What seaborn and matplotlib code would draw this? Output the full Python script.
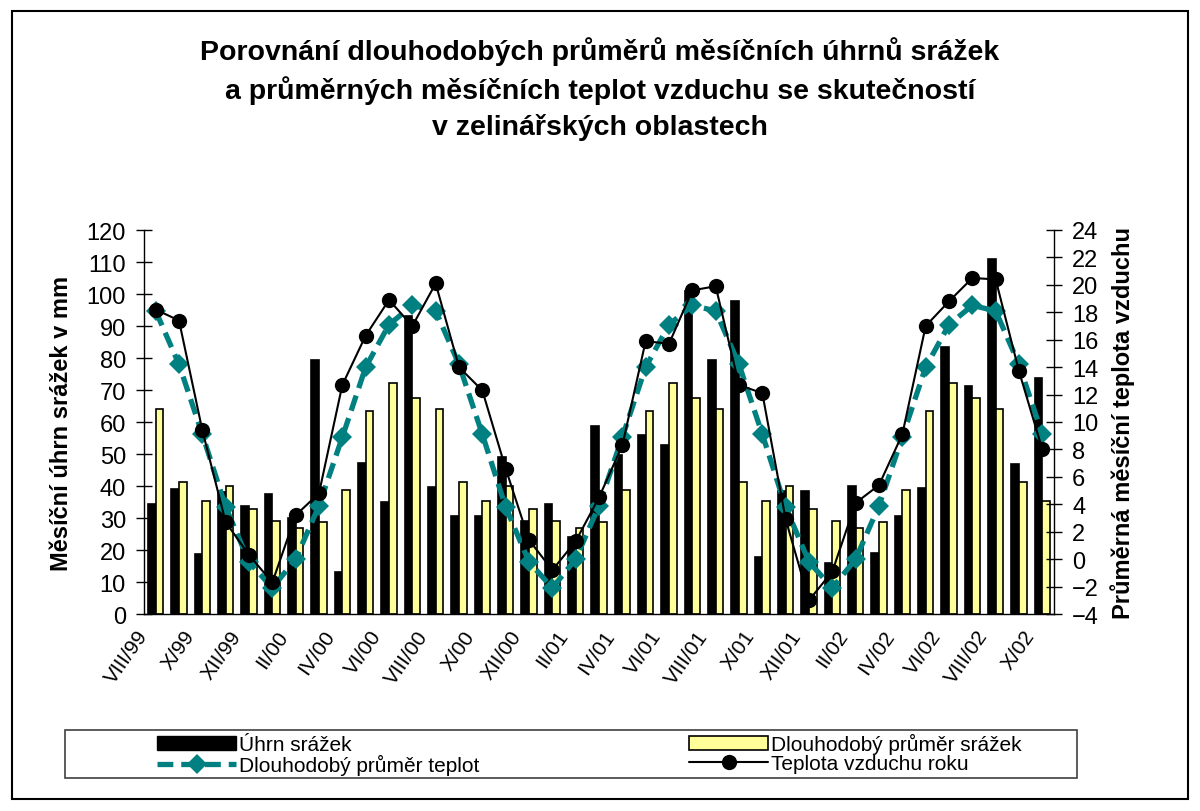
import numpy as np
import pandas as pd
import seaborn as sns
import matplotlib.pyplot as plt
import matplotlib.patches as mpatches
import matplotlib.transforms as mtransforms
from matplotlib.lines import Line2D

# months VIII/99 .. X/02
mesice = ['VIII/99', 'IX/99', 'X/99', 'XI/99', 'XII/99',
          'I/00', 'II/00', 'III/00', 'IV/00', 'V/00', 'VI/00', 'VII/00', 'VIII/00', 'IX/00', 'X/00', 'XI/00', 'XII/00',
          'I/01', 'II/01', 'III/01', 'IV/01', 'V/01', 'VI/01', 'VII/01', 'VIII/01', 'IX/01', 'X/01', 'XI/01', 'XII/01',
          'I/02', 'II/02', 'III/02', 'IV/02', 'V/02', 'VI/02', 'VII/02', 'VIII/02', 'IX/02', 'X/02']

# monthly precipitation (mm)
uhrn_srazek = [34.4, 39.0, 18.9, 38.0, 33.7,
               37.6, 30.0, 79.5, 13.0, 47.3, 34.9, 93.1, 39.8, 30.6, 30.6, 49.0, 29.0,
               34.3, 24.0, 58.8, 49.7, 55.8, 52.9, 100.9, 79.3, 97.8, 17.7, 38.5, 38.3,
               16.0, 40.0, 19.2, 30.6, 39.5, 83.4, 71.4, 110.9, 46.9, 73.8]

# long-term average precipitation (mm)
prumer_srazek = [64.1, 41.4, 35.3, 39.9, 32.9,
                 29.2, 26.8, 28.6, 38.7, 63.3, 72.3, 67.5, 64.1, 41.4, 35.3, 39.9, 32.9,
                 29.2, 26.8, 28.6, 38.7, 63.3, 72.3, 67.5, 64.1, 41.4, 35.3, 39.9, 32.9,
                 29.2, 26.8, 28.6, 38.7, 63.3, 72.3, 67.5, 64.1, 41.4, 35.3]

# long-term average temperature (°C)
prumer_teplot = [18.1, 14.2, 9.1, 3.8, -0.2,
                 -2.1, 0.0, 3.9, 8.9, 14.0, 17.1, 18.5, 18.1, 14.2, 9.1, 3.8, -0.2,
                 -2.1, 0.0, 3.9, 8.9, 14.0, 17.1, 18.5, 18.1, 14.2, 9.1, 3.8, -0.2,
                 -2.1, 0.0, 3.9, 8.9, 14.0, 17.1, 18.5, 18.1, 14.2, 9.1]

# actual air temperature (°C)
teplota_roku = [18.2, 17.4, 9.4, 2.7, 0.3,
                -1.7, 3.2, 4.8, 12.7, 16.3, 18.9, 17.0, 20.1, 14.0, 12.3, 6.6, 1.4,
                -0.8, 1.3, 4.5, 8.3, 15.9, 15.7, 19.6, 19.9, 12.7, 12.1, 2.9, -3.0,
                -0.9, 4.1, 5.4, 9.1, 17.0, 18.8, 20.5, 20.4, 13.7, 8.0]

n = len(mesice)
TEAL = '#008080'
YELLOW = '#FFFF99'

sns.set_style('white')
plt.rcParams['font.family'] = ['Liberation Sans', 'DejaVu Sans']
plt.rcParams['text.color'] = 'black'
plt.rcParams['axes.labelcolor'] = 'black'
plt.rcParams['xtick.color'] = 'black'
plt.rcParams['ytick.color'] = 'black'

fig = plt.figure(figsize=(12, 8.12), dpi=100)
ax = fig.add_axes([144 / 1200, 1 - 615 / 812, (1054 - 144) / 1200, (615 - 231) / 812])

bars = pd.DataFrame({
    'mesic': mesice * 2,
    'hodnota': uhrn_srazek + prumer_srazek,
    'rada': ['Úhrn srážek'] * n + ['Dlouhodobý průměr srážek'] * n,
})
sns.barplot(data=bars, x='mesic', y='hodnota', hue='rada', order=mesice,
            palette=['black', YELLOW], saturation=1, width=0.66, errorbar=None,
            edgecolor='black', linewidth=1.2, legend=False, ax=ax)

ax2 = ax.twinx()
temps = pd.DataFrame({'x': np.arange(n), 'prumer': prumer_teplot, 'skut': teplota_roku})
sns.lineplot(data=temps, x='x', y='prumer', ax=ax2, color=TEAL, lw=3.8,
             linestyle=(0, (3, 1.5)), marker='D', markersize=10,
             markeredgecolor=TEAL, markeredgewidth=0)
sns.lineplot(data=temps, x='x', y='skut', ax=ax2, color='black', lw=1.5,
             marker='o', markersize=11, markeredgewidth=0)

# axes
ax.set_xlim(-0.5, n - 0.5)
ax.set_ylim(0, 120)
ax.set_yticks(range(0, 121, 10))
ax2.set_ylim(-4, 24)
ax2.set_yticks(range(-4, 25, 2))

ax.set_xticks(np.arange(-0.5, n, 1))
ax.set_xticklabels([])
ax.set_xticks(np.arange(0, n, 2), minor=True)
ax.set_xticklabels(mesice[::2], minor=True, rotation=55, ha='right', va='center',
                   rotation_mode='anchor', fontsize=15)
ax.tick_params(axis='x', which='major', direction='inout', length=10, width=1, color='black')
ax.tick_params(axis='x', which='minor', length=0, pad=13)
ax.tick_params(axis='y', direction='inout', length=12, width=1, labelsize=17, pad=7, color='black')
ax2.tick_params(axis='y', direction='inout', length=12, width=1, labelsize=17, pad=7, color='black')

shift = mtransforms.ScaledTranslation(-12 / 100, 0, fig.dpi_scale_trans)
for lbl in ax.get_xticklabels(minor=True):
    lbl.set_transform(lbl.get_transform() + shift)

ax.set_xlabel('')
ax.set_ylabel('Měsíční úhrn srážek v mm', fontsize=17, fontweight='bold', labelpad=10)
ax2.set_ylabel('Průměrná měsíční teplota vzduchu', fontsize=17, fontweight='bold',
               labelpad=8, rotation=90)

for s in ['top', 'right']:
    ax.spines[s].set_visible(False)
for s in ['top', 'left', 'bottom']:
    ax2.spines[s].set_visible(False)
for a in (ax, ax2):
    for s in a.spines.values():
        s.set_color('black')
        s.set_linewidth(1)

# title
fig.text(0.5, 1 - 89 / 812,
         'Porovnání dlouhodobých průměrů měsíčních úhrnů srážek\n'
         'a průměrných měsíčních teplot vzduchu se skutečností\n'
         'v zelinářských oblastech',
         ha='center', va='center', fontsize=20.5, fontweight='bold', linespacing=1.45)

# legend
h1 = mpatches.Patch(facecolor='black', edgecolor='black', label='Úhrn srážek')
h2 = mpatches.Patch(facecolor=YELLOW, edgecolor='black', lw=1.2, label='Dlouhodobý průměr srážek')
h3 = Line2D([], [], color=TEAL, lw=3.8, linestyle=(0, (3, 1.5)), marker='D',
            markersize=10, markeredgewidth=0, label='Dlouhodobý průměr teplot')
h4 = Line2D([], [], color='black', lw=1.5, marker='o', markersize=11,
            markeredgewidth=0, label='Teplota vzduchu roku')
fig.legend(handles=[h1, h3, h2, h4], ncol=2, mode='expand', loc='lower left',
           bbox_to_anchor=(157 / 1200, 1 - 776 / 812, (1022 - 157) / 1200, (776 - 735) / 812),
           frameon=False, borderaxespad=0, borderpad=0, fontsize=15,
           handlelength=3.8, handleheight=0.65, handletextpad=0.15, labelspacing=0.0)

fig.patches.append(mpatches.Rectangle((65 / 1200, 1 - 779 / 812), (1077 - 65) / 1200, (779 - 731) / 812,
                                      transform=fig.transFigure, fill=False,
                                      edgecolor='#404040', lw=1.2))
fig.patches.append(mpatches.Rectangle((12 / 1200, 12 / 812), (1188 - 12) / 1200, (800 - 12) / 812,
                                      transform=fig.transFigure, fill=False,
                                      edgecolor='black', lw=1.5))

fig.savefig('out.png', dpi=100)
